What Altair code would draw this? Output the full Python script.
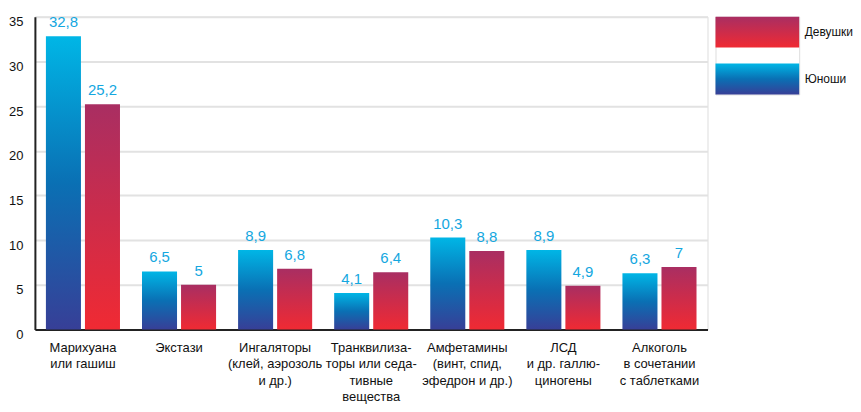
import altair as alt
import pandas as pd

categories = [
    "Марихуана|или гашиш",
    "Экстази",
    "Ингаляторы|(клей, аэрозоль|и др.)",
    "Транквилиза-|торы или седа-|тивные|вещества",
    "Амфетамины|(винт, спид,|эфедрон и др.)",
    "ЛСД|и др. галлю-|циногены",
    "Алкоголь|в сочетании|с таблетками",
]
boys = [32.8, 6.5, 8.9, 4.1, 10.3, 8.9, 6.3]
girls = [25.2, 5, 6.8, 6.4, 8.8, 4.9, 7]
series = ["Юноши", "Девушки"]
legend_order = ["Девушки", "Юноши"]
y_ticks = [0, 5, 10, 15, 20, 25, 30, 35]

rows = []
for c, b, g in zip(categories, boys, girls):
    rows.append({"cat": c, "sex": "Юноши", "value": b, "lbl": f"{b:g}".replace(".", ",")})
    rows.append({"cat": c, "sex": "Девушки", "value": g, "lbl": f"{g:g}".replace(".", ",")})
df = pd.DataFrame(rows)
legend_df = pd.DataFrame({"sex": legend_order})

FONT = "Liberation Sans, Arial, sans-serif"

blue_grad = {
    "gradient": "linear", "x1": 0, "y1": 0, "x2": 0, "y2": 1,
    "stops": [
        {"offset": 0, "color": "#00b6e6"},
        {"offset": 0.5, "color": "#0a70b4"},
        {"offset": 1, "color": "#373f97"},
    ],
}
red_grad = {
    "gradient": "linear", "x1": 0, "y1": 0, "x2": 0, "y2": 1,
    "stops": [
        {"offset": 0, "color": "#a92e62"},
        {"offset": 1, "color": "#f02a33"},
    ],
}
fill_cond = alt.condition("datum.sex === 'Юноши'", alt.value(blue_grad), alt.value(red_grad))

base = alt.Chart(df).encode(
    x=alt.X(
        "cat:N", sort=categories, title=None,
        scale=alt.Scale(paddingInner=0, paddingOuter=0),
        axis=alt.Axis(
            labelAngle=0, labelExpr="split(datum.label, '|')", labelFontSize=13,
            labelLineHeight=16.5, labelBaseline="top", labelPadding=12, ticks=False,
            domain=True, domainColor="#222222", domainWidth=2, grid=False,
            labelColor="#111111", labelFont=FONT,
        ),
    ),
    xOffset=alt.XOffset(
        "sex:N", sort=series,
        scale=alt.Scale(domain=series, paddingInner=0.1026, paddingOuter=0.282),
    ),
    y=alt.Y(
        "value:Q", title=None,
        scale=alt.Scale(domain=[0, 35], nice=False),
        axis=alt.Axis(
            values=y_ticks, ticks=False, labelPadding=12, labelFontSize=13,
            labelBaseline="top", labelOffset=-1, labelColor="#111111", labelFont=FONT,
            domain=True, domainColor="#222222", domainWidth=2,
            grid=True, gridColor="#e2e2e2", gridWidth=2,
        ),
    ),
)

bars = base.mark_bar().encode(fill=fill_cond)
texts = base.mark_text(baseline="bottom", dy=-6, fontSize=15, color="#14a7df", font=FONT).encode(
    text="lbl:N"
)

main = alt.layer(bars, texts).properties(width=675, height=314)

legend = alt.Chart(legend_df).mark_rect().encode(
    y=alt.Y(
        "sex:N", sort=legend_order, title=None,
        scale=alt.Scale(paddingInner=0.34, paddingOuter=0),
        axis=alt.Axis(orient="right", ticks=False, domain=False, labelPadding=5,
                      labelFontSize=12, labelColor="#111111", labelFont=FONT),
    ),
    fill=fill_cond,
).properties(width=84, height=78)

chart = alt.hconcat(main, legend, spacing=6).properties(
    padding={"left": 0, "top": 6, "right": 0, "bottom": 0}
).configure_view(stroke=None).configure(font=FONT)

chart.save("out.html", embed_options={"renderer": "svg", "actions": False})
